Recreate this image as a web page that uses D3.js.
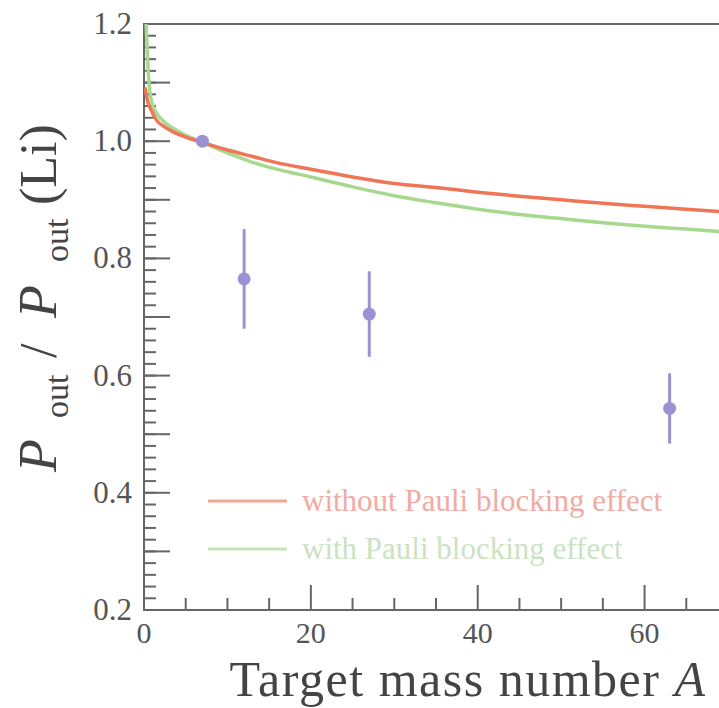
<!DOCTYPE html>
<html>
<head>
<meta charset="utf-8">
<script src="https://cdn.jsdelivr.net/npm/d3@7"></script>
<style>
  html, body { margin: 0; padding: 0; background: #fff; }
  svg { display: block; font-family: "Liberation Serif", "DejaVu Serif", serif; }
</style>
</head>
<body>
<svg id="chart" width="719" height="708"></svg>
<script>
// data
const massNumbers = [7, 12, 27, 63];
const ratios = [1.0, 0.765, 0.705, 0.544];
const ratioErrors = [0, 0.085, 0.073, 0.06];

const curveA = [0.1, 0.25, 0.4, 0.7, 1.0, 1.5, 2.5, 3.5, 5, 7, 10, 13, 16, 20, 25, 30, 35, 40, 45, 50, 55, 60, 65, 70];
const withoutPauli = [1.092, 1.082, 1.07, 1.058, 1.049, 1.036, 1.024, 1.016, 1.007, 0.998, 0.985, 0.974, 0.963, 0.952, 0.939, 0.928, 0.921, 0.913, 0.906, 0.900, 0.894, 0.889, 0.884, 0.879];
const greenA = [0.25, 0.4, 0.55, 0.7, 1.0, 1.5, 2.5, 3.5, 5, 7, 10, 13, 16, 20, 25, 30, 35, 40, 45, 50, 55, 60, 65, 70];
const withPauli = [1.2, 1.15, 1.11, 1.085, 1.063, 1.048, 1.032, 1.022, 1.01, 0.998, 0.980, 0.964, 0.952, 0.939, 0.922, 0.907, 0.895, 0.884, 0.875, 0.868, 0.861, 0.855, 0.850, 0.845];

const xTickLabels = [0, 20, 40, 60];
const yTickLabels = [0.2, 0.4, 0.6, 0.8, 1.0, 1.2];
const legendLabels = ["without Pauli blocking effect", "with Pauli blocking effect"];

// layout
const plotL = 144, plotT = 24, plotB = 610, plotR = 728;
const axisColor = "#666";
const redCol = "#ef7556", greenCol = "#a6d98e", dotCol = "#9a92d3";

const svg = d3.select("#chart");

const x = d3.scaleLinear().domain([0, 70]).range([plotL, plotR]);
const y = d3.scaleLinear().domain([0.2, 1.2]).range([plotB, plotT]);

// clip for the curves
svg.append("clipPath").attr("id", "plotclip")
   .append("rect")
   .attr("x", plotL).attr("y", plotT)
   .attr("width", plotR - plotL).attr("height", plotB - plotT);

// frame (right edge is off the page)
svg.append("path")
   .attr("d", `M${plotR},${plotT}H${plotL}V${plotB}H${plotR}`)
   .attr("fill", "none")
   .attr("stroke", axisColor)
   .attr("stroke-width", 2);

// y ticks: minor every 0.02, long every 0.1
let yMinor = d3.range(0.22, 1.2, 0.02).map(v => +v.toFixed(2));
let yMajor = d3.range(0.3, 1.2, 0.1).map(v => +v.toFixed(1));
let gy = svg.append("g").attr("stroke", axisColor).attr("stroke-width", 2);
gy.selectAll("line.minor").data(yMinor).join("line")
  .attr("x1", plotL).attr("x2", plotL + 12)
  .attr("y1", d => y(d)).attr("y2", d => y(d));
gy.selectAll("line.major").data(yMajor).join("line")
  .attr("x1", plotL).attr("x2", plotL + 26)
  .attr("y1", d => y(d)).attr("y2", d => y(d));

// x ticks: every 5, long at 20s
let xMinor = d3.range(5, 70, 5).filter(v => v % 20 !== 0);
let xMajor = [20, 40, 60];
let gx = svg.append("g").attr("stroke", axisColor).attr("stroke-width", 2);
gx.selectAll("line.minor").data(xMinor).join("line")
  .attr("x1", d => x(d)).attr("x2", d => x(d))
  .attr("y1", plotB).attr("y2", plotB - 12);
gx.selectAll("line.major").data(xMajor).join("line")
  .attr("x1", d => x(d)).attr("x2", d => x(d))
  .attr("y1", plotB).attr("y2", plotB - 25);

// tick labels
svg.append("g").selectAll("text").data(yTickLabels).join("text")
   .attr("x", 132).attr("y", d => y(d) + 10)
   .attr("text-anchor", "end")
   .attr("font-size", 31).attr("fill", "#555")
   .text(d => d.toFixed(1));

svg.append("g").selectAll("text").data(xTickLabels).join("text")
   .attr("x", d => x(d)).attr("y", 643)
   .attr("text-anchor", "middle")
   .attr("font-size", 30).attr("fill", "#555")
   .text(d => d);

// curves
let line = d3.line().x(d => x(d[0])).y(d => y(d[1])).curve(d3.curveMonotoneX);
let curves = svg.append("g").attr("clip-path", "url(#plotclip)");
curves.append("path")
   .attr("d", line(d3.zip(greenA, withPauli)))
   .attr("fill", "none").attr("stroke", greenCol).attr("stroke-width", 3.5);
curves.append("path")
   .attr("d", line(d3.zip(curveA, withoutPauli)))
   .attr("fill", "none").attr("stroke", redCol).attr("stroke-width", 3.5);

// data points with error bars
let pts = svg.append("g");
pts.selectAll("line").data(massNumbers).join("line")
   .attr("x1", d => x(d)).attr("x2", d => x(d))
   .attr("y1", (d, i) => y(ratios[i] + ratioErrors[i]))
   .attr("y2", (d, i) => y(ratios[i] - ratioErrors[i]))
   .attr("stroke", dotCol).attr("stroke-width", 3);
pts.selectAll("circle").data(massNumbers).join("circle")
   .attr("cx", d => x(d)).attr("cy", (d, i) => y(ratios[i]))
   .attr("r", 6.5).attr("fill", dotCol);

// legend
let legCols = [[ "#f4a593", "#f2aaa2" ], [ "#c6e4b8", "#cbe2c3" ]];
let leg = svg.append("g");
legendLabels.forEach((lab, i) => {
    let ly = 501 + i * 48;
    leg.append("line")
       .attr("x1", 208).attr("x2", 287).attr("y1", ly).attr("y2", ly)
       .attr("stroke", legCols[i][0]).attr("stroke-width", 3);
    leg.append("text")
       .attr("x", 302).attr("y", ly + 10)
       .attr("font-size", 31).attr("fill", legCols[i][1])
       .text(lab);
});

// axis titles
svg.append("text")
   .attr("x", 468).attr("y", 696)
   .attr("text-anchor", "middle")
   .attr("font-size", 50).attr("letter-spacing", 1.5).attr("fill", "#444")
   .html('Target mass number <tspan font-style="italic">A</tspan>');

// y title, pieces placed along the rotated axis (x = -page y)
let yt = svg.append("g").attr("transform", "translate(56,0) rotate(-90)")
   .attr("fill", "#444");
let yPieces = [
    { t: "P", at: 472, size: 54, it: true, dy: 0 },
    { t: "out", at: 418, size: 34, it: false, dy: 12 },
    { t: "/", at: 358, size: 52, it: false, dy: 0 },
    { t: "P", at: 318, size: 54, it: true, dy: 0 },
    { t: "out", at: 262, size: 34, it: false, dy: 12 },
    { t: "(Li)", at: 205, size: 52, it: false, dy: 0 }
];
yt.selectAll("text").data(yPieces).join("text")
  .attr("x", d => -d.at).attr("y", d => d.dy)
  .attr("font-size", d => d.size)
  .attr("font-style", d => d.it ? "italic" : "normal")
  .text(d => d.t);
</script>
</body>
</html>
